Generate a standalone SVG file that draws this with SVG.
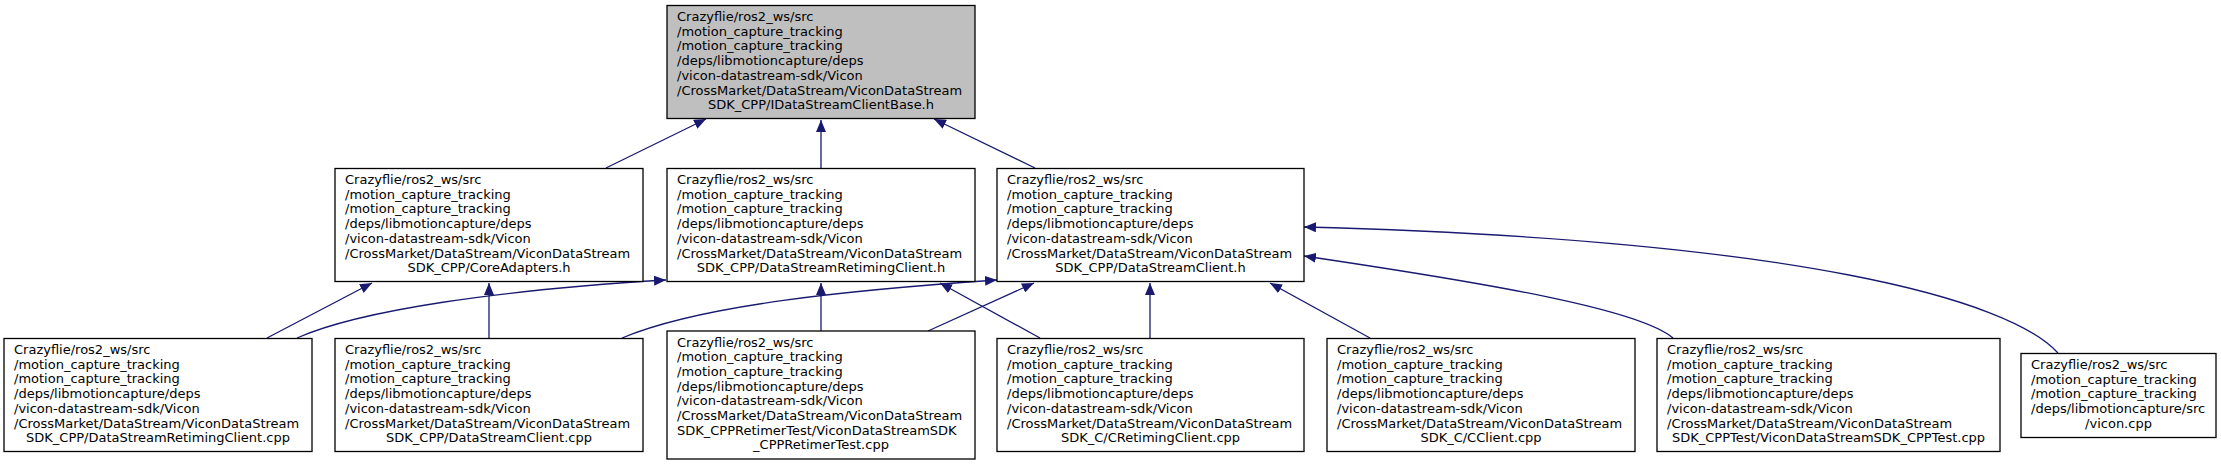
<svg xmlns="http://www.w3.org/2000/svg" width="2221" height="465" viewBox="0 0 2221 465">
<defs>
<marker id="ah" markerUnits="userSpaceOnUse" markerWidth="12" markerHeight="10" refX="12" refY="5" orient="auto">
<path d="M0,0 L12,5 L0,10 z" fill="#191970"/>
</marker>
<style>
.box{fill:#ffffff;stroke:#000000;stroke-width:1.3}
.root{fill:#bfbfbf;stroke:#000000;stroke-width:1.3}
text{font-family:"DejaVu Sans",sans-serif;font-size:13px;fill:#000000}
.c{text-anchor:middle}
.e{fill:none;stroke:#191970;stroke-width:1.3;marker-end:url(#ah)}
</style>
</defs>
<rect width="2221" height="465" fill="#ffffff"/>
<g id="connectors">
<path class="e" d="M606,168 L706,119"/>
<path class="e" d="M821,168 L821,120"/>
<path class="e" d="M1035,168 L934,119"/>
<path class="e" d="M267,338 L372,283"/>
<path class="e" d="M297,338 C360,310 500,290 666,280"/>
<path class="e" d="M489,338 L489,283"/>
<path class="e" d="M622,338 C700,305 850,290 997,280"/>
<path class="e" d="M821,331 L821,283"/>
<path class="e" d="M928,331 L1034,283"/>
<path class="e" d="M1040,338 L940,283"/>
<path class="e" d="M1150,338 L1150,283"/>
<path class="e" d="M1370,338 L1270,283"/>
<path class="e" d="M1673,338 C1640,310 1500,285 1304,256"/>
<path class="e" d="M2058,353 C2010,300 1800,240 1304,227"/>
</g>
<g id="node_root">
<rect class="root" x="667" y="5.5" width="308" height="113"/>
<text x="677" y="21">Crazyflie/ros2_ws/src</text>
<text x="677" y="35.7">/motion_capture_tracking</text>
<text x="677" y="50.4">/motion_capture_tracking</text>
<text x="677" y="65.1">/deps/libmotioncapture/deps</text>
<text x="677" y="79.8">/vicon-datastream-sdk/Vicon</text>
<text x="677" y="94.5">/CrossMarket/DataStream/ViconDataStream</text>
<text class="c" x="821" y="109.2">SDK_CPP/IDataStreamClientBase.h</text>
</g>
<g id="node_coreadapters">
<rect class="box" x="335" y="168.5" width="308" height="113"/>
<text x="345" y="184">Crazyflie/ros2_ws/src</text>
<text x="345" y="198.7">/motion_capture_tracking</text>
<text x="345" y="213.4">/motion_capture_tracking</text>
<text x="345" y="228.1">/deps/libmotioncapture/deps</text>
<text x="345" y="242.8">/vicon-datastream-sdk/Vicon</text>
<text x="345" y="257.5">/CrossMarket/DataStream/ViconDataStream</text>
<text class="c" x="489" y="272.2">SDK_CPP/CoreAdapters.h</text>
</g>
<g id="node_retiming_h">
<rect class="box" x="667" y="168.5" width="308" height="113"/>
<text x="677" y="184">Crazyflie/ros2_ws/src</text>
<text x="677" y="198.7">/motion_capture_tracking</text>
<text x="677" y="213.4">/motion_capture_tracking</text>
<text x="677" y="228.1">/deps/libmotioncapture/deps</text>
<text x="677" y="242.8">/vicon-datastream-sdk/Vicon</text>
<text x="677" y="257.5">/CrossMarket/DataStream/ViconDataStream</text>
<text class="c" x="821" y="272.2">SDK_CPP/DataStreamRetimingClient.h</text>
</g>
<g id="node_client_h">
<rect class="box" x="997" y="168.5" width="307" height="113"/>
<text x="1007" y="184">Crazyflie/ros2_ws/src</text>
<text x="1007" y="198.7">/motion_capture_tracking</text>
<text x="1007" y="213.4">/motion_capture_tracking</text>
<text x="1007" y="228.1">/deps/libmotioncapture/deps</text>
<text x="1007" y="242.8">/vicon-datastream-sdk/Vicon</text>
<text x="1007" y="257.5">/CrossMarket/DataStream/ViconDataStream</text>
<text class="c" x="1150.5" y="272.2">SDK_CPP/DataStreamClient.h</text>
</g>
<g id="node_retiming_cpp">
<rect class="box" x="4" y="338.5" width="308" height="113"/>
<text x="14" y="354">Crazyflie/ros2_ws/src</text>
<text x="14" y="368.7">/motion_capture_tracking</text>
<text x="14" y="383.4">/motion_capture_tracking</text>
<text x="14" y="398.1">/deps/libmotioncapture/deps</text>
<text x="14" y="412.8">/vicon-datastream-sdk/Vicon</text>
<text x="14" y="427.5">/CrossMarket/DataStream/ViconDataStream</text>
<text class="c" x="158" y="442.2">SDK_CPP/DataStreamRetimingClient.cpp</text>
</g>
<g id="node_client_cpp">
<rect class="box" x="335" y="338.5" width="308" height="113"/>
<text x="345" y="354">Crazyflie/ros2_ws/src</text>
<text x="345" y="368.7">/motion_capture_tracking</text>
<text x="345" y="383.4">/motion_capture_tracking</text>
<text x="345" y="398.1">/deps/libmotioncapture/deps</text>
<text x="345" y="412.8">/vicon-datastream-sdk/Vicon</text>
<text x="345" y="427.5">/CrossMarket/DataStream/ViconDataStream</text>
<text class="c" x="489" y="442.2">SDK_CPP/DataStreamClient.cpp</text>
</g>
<g id="node_retimertest">
<rect class="box" x="667" y="331" width="308" height="128"/>
<text x="677" y="346.5">Crazyflie/ros2_ws/src</text>
<text x="677" y="361.2">/motion_capture_tracking</text>
<text x="677" y="375.9">/motion_capture_tracking</text>
<text x="677" y="390.6">/deps/libmotioncapture/deps</text>
<text x="677" y="405.3">/vicon-datastream-sdk/Vicon</text>
<text x="677" y="420">/CrossMarket/DataStream/ViconDataStream</text>
<text x="677" y="434.7">SDK_CPPRetimerTest/ViconDataStreamSDK</text>
<text class="c" x="821" y="449.4">_CPPRetimerTest.cpp</text>
</g>
<g id="node_cretiming">
<rect class="box" x="997" y="338.5" width="307" height="113"/>
<text x="1007" y="354">Crazyflie/ros2_ws/src</text>
<text x="1007" y="368.7">/motion_capture_tracking</text>
<text x="1007" y="383.4">/motion_capture_tracking</text>
<text x="1007" y="398.1">/deps/libmotioncapture/deps</text>
<text x="1007" y="412.8">/vicon-datastream-sdk/Vicon</text>
<text x="1007" y="427.5">/CrossMarket/DataStream/ViconDataStream</text>
<text class="c" x="1150.5" y="442.2">SDK_C/CRetimingClient.cpp</text>
</g>
<g id="node_cclient">
<rect class="box" x="1327" y="338.5" width="308" height="113"/>
<text x="1337" y="354">Crazyflie/ros2_ws/src</text>
<text x="1337" y="368.7">/motion_capture_tracking</text>
<text x="1337" y="383.4">/motion_capture_tracking</text>
<text x="1337" y="398.1">/deps/libmotioncapture/deps</text>
<text x="1337" y="412.8">/vicon-datastream-sdk/Vicon</text>
<text x="1337" y="427.5">/CrossMarket/DataStream/ViconDataStream</text>
<text class="c" x="1481" y="442.2">SDK_C/CClient.cpp</text>
</g>
<g id="node_cpptest">
<rect class="box" x="1657" y="338.5" width="343" height="113"/>
<text x="1667" y="354">Crazyflie/ros2_ws/src</text>
<text x="1667" y="368.7">/motion_capture_tracking</text>
<text x="1667" y="383.4">/motion_capture_tracking</text>
<text x="1667" y="398.1">/deps/libmotioncapture/deps</text>
<text x="1667" y="412.8">/vicon-datastream-sdk/Vicon</text>
<text x="1667" y="427.5">/CrossMarket/DataStream/ViconDataStream</text>
<text class="c" x="1828.5" y="442.2">SDK_CPPTest/ViconDataStreamSDK_CPPTest.cpp</text>
</g>
<g id="node_vicon">
<rect class="box" x="2021" y="353.5" width="195" height="84"/>
<text x="2031" y="369">Crazyflie/ros2_ws/src</text>
<text x="2031" y="383.7">/motion_capture_tracking</text>
<text x="2031" y="398.4">/motion_capture_tracking</text>
<text x="2031" y="413.1">/deps/libmotioncapture/src</text>
<text class="c" x="2118.5" y="427.8">/vicon.cpp</text>
</g>
</svg>
